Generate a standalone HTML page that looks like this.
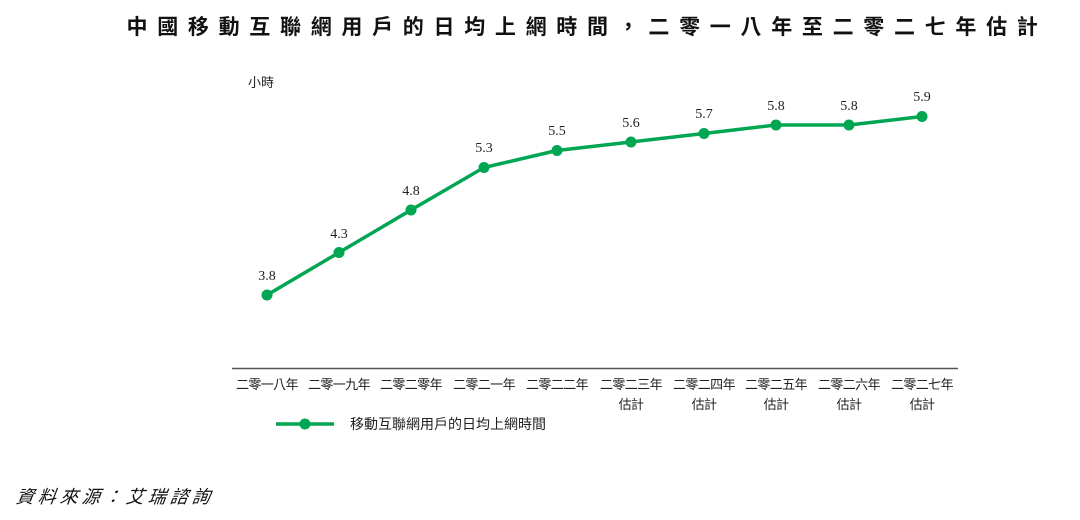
<!DOCTYPE html><html><head><meta charset="utf-8"><style>
body{margin:0;background:#fff;width:1080px;height:515px;overflow:hidden}
text{font-family:"Liberation Sans","Noto Sans CJK TC",sans-serif}
text.n{font-family:"Liberation Serif","Noto Serif CJK SC",serif}
</style></head><body>
<svg width="1080" height="515" xmlns="http://www.w3.org/2000/svg">
<text x="587" y="34" text-anchor="middle" font-size="21" font-weight="bold" letter-spacing="9.7" fill="#111">中國移動互聯網用戶的日均上網時間，二零一八年至二零二七年估計</text>
<text x="248" y="87" font-size="13" fill="#222">小時</text>
<line x1="232" y1="368.5" x2="958" y2="368.5" stroke="#555" stroke-width="1.5"/>
<polyline fill="none" stroke="#00a651" stroke-width="3.5" stroke-linejoin="round" points="267,295 339,252.5 411,210 484,167.5 557,150.5 631,142 704,133.5 776,125 849,125 922,116.5"/>
<g fill="#00a651">
<circle cx="267" cy="295" r="5.5"/><circle cx="339" cy="252.5" r="5.5"/><circle cx="411" cy="210" r="5.5"/><circle cx="484" cy="167.5" r="5.5"/><circle cx="557" cy="150.5" r="5.5"/><circle cx="631" cy="142" r="5.5"/><circle cx="704" cy="133.5" r="5.5"/><circle cx="776" cy="125" r="5.5"/><circle cx="849" cy="125" r="5.5"/><circle cx="922" cy="116.5" r="5.5"/>
</g>
<g font-size="14" fill="#222" text-anchor="middle">
<text class="n" x="267" y="280">3.8</text><text class="n" x="339" y="238">4.3</text><text class="n" x="411" y="195">4.8</text><text class="n" x="484" y="152">5.3</text><text class="n" x="557" y="135">5.5</text><text class="n" x="631" y="127">5.6</text><text class="n" x="704" y="118">5.7</text><text class="n" x="776" y="110">5.8</text><text class="n" x="849" y="110">5.8</text><text class="n" x="922" y="101">5.9</text>
</g>
<g font-size="13" fill="#222" text-anchor="middle" letter-spacing="-0.6">
<text x="267" y="389">二零一八年</text><text x="339" y="389">二零一九年</text><text x="411" y="389">二零二零年</text><text x="484" y="389">二零二一年</text><text x="557" y="389">二零二二年</text>
<text x="631" y="389">二零二三年</text><text x="704" y="389">二零二四年</text><text x="776" y="389">二零二五年</text><text x="849" y="389">二零二六年</text><text x="922" y="389">二零二七年</text>
<text x="631" y="409">估計</text><text x="704" y="409">估計</text><text x="776" y="409">估計</text><text x="849" y="409">估計</text><text x="922" y="409">估計</text>
</g>
<line x1="276" y1="424" x2="334" y2="424" stroke="#00a651" stroke-width="3.5"/>
<circle cx="305" cy="424" r="5.5" fill="#00a651"/>
<text x="350" y="429" font-size="14" fill="#222">移動互聯網用戶的日均上網時間</text>
<text x="18" y="503" font-size="18" font-style="italic" fill="#111" letter-spacing="4" transform="translate(68,0) skewX(-8)">資料來源：艾瑞諮詢</text>
</svg>
</body></html>
